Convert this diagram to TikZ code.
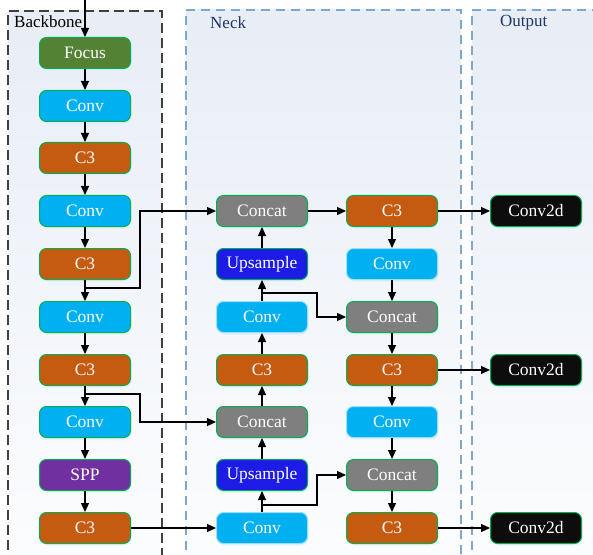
\documentclass[tikz,border=0pt]{standalone}
\usepackage{fontspec}
\setmainfont{Liberation Serif}
\usetikzlibrary{arrows.meta,shadows}
\definecolor{cFocus}{HTML}{548235}
\definecolor{cConv}{HTML}{00B0F0}
\definecolor{cC3}{HTML}{C55A11}
\definecolor{cConcat}{HTML}{7F7F7F}
\definecolor{cUp}{HTML}{1C1CE6}
\definecolor{cSPP}{HTML}{7030A0}
\definecolor{cOut}{HTML}{0D0D0D}
\definecolor{cBorder}{HTML}{00B050}
\definecolor{cNavy}{HTML}{1F3864}
\definecolor{cBlueDash}{HTML}{7FA6CC}
\definecolor{cBgTop}{HTML}{E8EDF6}
\definecolor{cBgBot}{HTML}{FCFDFE}
\definecolor{cDark}{HTML}{404040}
\begin{document}
\begin{tikzpicture}[x=1bp,y=-1bp,
  blk/.style={rectangle, rounded corners=7bp, minimum width=91bp, minimum height=31bp,
    inner sep=0pt, text=white, font=\fontsize{17.5bp}{20bp}\selectfont,
    draw=cBorder, line width=1bp,
    drop shadow={shadow xshift=1bp, shadow yshift=-2bp, opacity=0.25, fill=cConv!35}},
  focus/.style={blk, fill=cFocus},
  conv/.style={blk, fill=cConv},
  convn/.style={blk, fill=cConv, draw=cConv!40!white},
  cthree/.style={blk, fill=cC3},
  concat/.style={blk, fill=cConcat},
  upsm/.style={blk, fill=cUp},
  spp/.style={blk, fill=cSPP},
  outb/.style={blk, fill=cOut},
  arr/.style={-{Triangle[length=9bp,width=8bp]}, line width=1.2bp, black},
  ttl/.style={anchor=west, inner sep=0pt, font=\fontsize{17bp}{20bp}\selectfont}
]
\useasboundingbox (0,0) rectangle (593,555);
\begin{scope}
\clip (0,0) rectangle (593,555);
\shade[top color=cBgTop, bottom color=cBgBot] (8,11) rectangle (162,580);
\shade[top color=cBgTop, bottom color=cBgBot] (186,10) rectangle (461,580);
\shade[top color=cBgTop, bottom color=cBgBot] (472,10) rectangle (620,580);
\draw[cDark, line width=2bp, dash pattern=on 10bp off 5bp] (8,580) -- (8,11) -- (162,11) -- (162,580);
\draw[cBlueDash, line width=1.5bp, dash pattern=on 9bp off 6bp] (186,580) -- (186,10) -- (461,10) -- (461,580);
\draw[cBlueDash, line width=1.5bp, dash pattern=on 9bp off 6bp] (472,580) -- (472,10) -- (620,10);
\end{scope}

\node[ttl, text=black] (tb) at (14,22) {Backbone};
\node[ttl, text=cNavy] (tn) at (210,23) {Neck};
\node[ttl, text=cNavy] (to) at (500,23) {Output};

% backbone
\node[focus]  (b1)  at (85,53)  {Focus};
\node[conv]   (b2)  at (85,106) {Conv};
\node[cthree] (b3)  at (85,158) {C3};
\node[conv]   (b4)  at (85,211) {Conv};
\node[cthree] (b5)  at (85,264) {C3};
\node[conv]   (b6)  at (85,317) {Conv};
\node[cthree] (b7)  at (85,370) {C3};
\node[conv]   (b8)  at (85,422) {Conv};
\node[spp]    (b9)  at (85,475) {SPP};
\node[cthree] (b10) at (85,528) {C3};

% neck column 1
\node[concat] (n1) at (262,211) {Concat};
\node[upsm]   (n2) at (262,264) {Upsample};
\node[convn]  (n3) at (262,317) {Conv};
\node[cthree] (n4) at (262,370) {C3};
\node[concat] (n5) at (262,422) {Concat};
\node[upsm]   (n6) at (262,475) {Upsample};
\node[convn]  (n7) at (262,528) {Conv};

% neck column 2
\node[cthree] (m1) at (392,211) {C3};
\node[convn]  (m2) at (392,264) {Conv};
\node[concat] (m3) at (392,317) {Concat};
\node[cthree] (m4) at (392,370) {C3};
\node[convn]  (m5) at (392,422) {Conv};
\node[concat] (m6) at (392,475) {Concat};
\node[cthree] (m7) at (392,528) {C3};

% outputs
\node[outb] (o1) at (536,211) {Conv2d};
\node[outb] (o2) at (536,370) {Conv2d};
\node[outb] (o3) at (536,528) {Conv2d};

% input
\coordinate (in) at (85,0);
\draw[arr] (in) -- (b1.north);
\foreach \a/\b in {b1/b2,b2/b3,b3/b4,b4/b5,b5/b6,b6/b7,b7/b8,b8/b9,b9/b10}
  \draw[arr] (\a.south) -- (\b.north);

% backbone branches
\coordinate (j1) at (85,288);
\coordinate (j2) at (85,394);
\draw[arr] (j1) -- (140,288) |- (n1.west);
\draw[arr] (j2) -- (140,394) |- (n5.west);
\draw[arr] (b10.east) -- (n7.west);

% neck column 1 upward
\foreach \a/\b in {n7/n6,n6/n5,n5/n4,n4/n3,n3/n2,n2/n1}
  \draw[arr] (\a.north) -- (\b.south);

% column 1 to 2
\draw[arr] (n1.east) -- (m1.west);
\coordinate (j3) at (262,293);
\coordinate (j4) at (262,505);
\draw[arr] (j3) -- (317,293) |- (m3.west);
\draw[arr] (j4) -- (317,505) |- (m6.west);

% neck column 2 downward
\foreach \a/\b in {m1/m2,m2/m3,m3/m4,m4/m5,m5/m6,m6/m7}
  \draw[arr] (\a.south) -- (\b.north);

% outputs
\draw[arr] (m1.east) -- (o1.west);
\draw[arr] (m4.east) -- (o2.west);
\draw[arr] (m7.east) -- (o3.west);
\end{tikzpicture}
\end{document}
